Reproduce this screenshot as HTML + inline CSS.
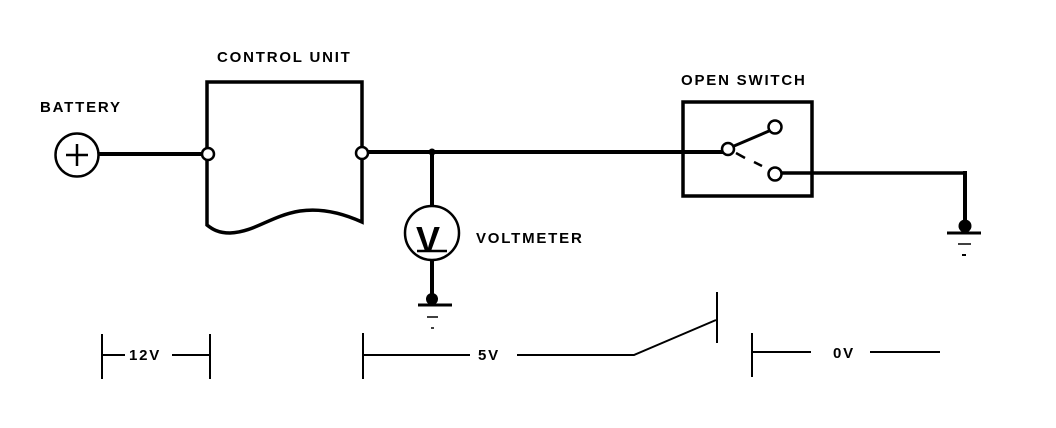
<!DOCTYPE html>
<html><head><meta charset="utf-8"><style>
html,body{margin:0;padding:0;background:#fff;}
svg{display:block}
text{font-family:"Liberation Sans",sans-serif;font-weight:bold;font-size:15px;fill:#000;letter-spacing:1.8px}
</style></head><body>
<svg width="1056" height="428" viewBox="0 0 1056 428" xmlns="http://www.w3.org/2000/svg">
<g stroke="#000" stroke-width="3.5" fill="none" stroke-linecap="butt">
<circle cx="77" cy="155" r="21.5" stroke-width="2.5"/>
<line x1="66" y1="155" x2="88" y2="155" stroke-width="2.5"/>
<line x1="77" y1="144" x2="77" y2="166" stroke-width="2.5"/>
<line x1="99" y1="154" x2="202" y2="154" stroke-width="4"/>
<path d="M207,225 L207,82 L362,82 L362,222 C340,212 320,208 300,211 C270,216 255,232 230,233 C218,233 212,229 207,225 Z"/>
<circle cx="208" cy="154" r="6" fill="#fff" stroke-width="2.5"/>
<circle cx="362" cy="153" r="6" fill="#fff" stroke-width="2.5"/>
<line x1="368" y1="152" x2="723" y2="152" stroke-width="4"/>
<circle cx="432" cy="152" r="3.5" fill="#000" stroke="none"/>
<line x1="432" y1="152" x2="432" y2="206" stroke-width="4"/>
<circle cx="432" cy="233" r="27" stroke-width="2.5"/>
<line x1="432" y1="260" x2="432" y2="298" stroke-width="4"/>
<circle cx="432" cy="299" r="6" fill="#000" stroke="none"/>
<line x1="418" y1="305" x2="452" y2="305" stroke-width="3"/>
<line x1="427" y1="317" x2="438" y2="317" stroke-width="1.5"/>
<line x1="431" y1="328" x2="434" y2="328" stroke-width="1.5"/>
<rect x="683" y="102" width="129" height="94" stroke-width="3.5"/>
<circle cx="728" cy="149" r="6" fill="#fff" stroke-width="2.5"/>
<circle cx="775" cy="127" r="6.5" fill="#fff" stroke-width="2.5"/>
<circle cx="775" cy="174" r="6.5" fill="#fff" stroke-width="2.5"/>
<line x1="734" y1="146" x2="769" y2="131" stroke-width="3"/>
<line x1="736" y1="153" x2="745" y2="158" stroke-width="2.5"/>
<line x1="754" y1="162" x2="762" y2="166" stroke-width="2.5"/>
<line x1="781" y1="173" x2="965" y2="173" stroke-width="3.5"/>
<line x1="965" y1="171" x2="965" y2="225" stroke-width="4"/>
<circle cx="965" cy="226" r="6.5" fill="#000" stroke="none"/>
<line x1="947" y1="233" x2="981" y2="233" stroke-width="3"/>
<line x1="958" y1="244" x2="971" y2="244" stroke-width="1.5"/>
<line x1="962" y1="255" x2="966" y2="255" stroke-width="2"/>
<g stroke-width="2">
<line x1="102" y1="334" x2="102" y2="379"/>
<line x1="210" y1="334" x2="210" y2="379"/>
<line x1="102" y1="355" x2="125" y2="355"/>
<line x1="172" y1="355" x2="210" y2="355"/>
<line x1="363" y1="333" x2="363" y2="379"/>
<line x1="363" y1="355" x2="470" y2="355"/>
<polyline points="517,355 634,355 716,320"/>
<line x1="717" y1="292" x2="717" y2="343"/>
<line x1="752" y1="333" x2="752" y2="377"/>
<line x1="752" y1="352" x2="811" y2="352"/>
<line x1="870" y1="352" x2="940" y2="352"/>
</g>
</g>
<text x="40" y="112">BATTERY</text>
<text x="217" y="62">CONTROL UNIT</text>
<text x="681" y="85">OPEN SWITCH</text>
<text x="476" y="243">VOLTMETER</text>
<text x="416" y="252" style="font-size:36px;letter-spacing:0">V</text>
<line x1="417" y1="251" x2="447" y2="251" stroke="#000" stroke-width="2.5"/>
<text x="129" y="360">12V</text>
<text x="478" y="360">5V</text>
<text x="833" y="358">0V</text>
</svg>
</body></html>
